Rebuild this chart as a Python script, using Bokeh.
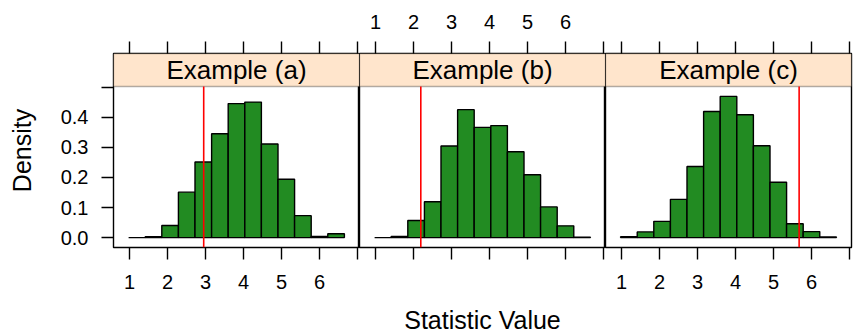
from bokeh.plotting import figure
from bokeh.layouts import row
from bokeh.models import (Range1d, FixedTicker, LinearAxis, BoxAnnotation, Label,
                          NumeralTickFormatter)
from bokeh.embed import file_html
from bokeh.resources import INLINE

# ---------------- data ----------------
PANEL_TITLES = ["Example (a)", "Example (b)", "Example (c)"]
BIN_EDGES = [0.975, 1.412, 1.848, 2.285, 2.721, 3.158, 3.594, 4.031,
             4.467, 4.904, 5.340, 5.777, 6.213, 6.650]
DENSITY_A = [0.000, 0.003, 0.040, 0.151, 0.251, 0.345, 0.445, 0.450,
             0.311, 0.194, 0.073, 0.004, 0.013]
DENSITY_B = [0.000, 0.004, 0.057, 0.119, 0.304, 0.425, 0.366, 0.372,
             0.285, 0.209, 0.102, 0.039, 0.001]
DENSITY_C = [0.003, 0.019, 0.054, 0.127, 0.236, 0.419, 0.469, 0.408,
             0.305, 0.184, 0.046, 0.020, 0.002]
OBSERVED = [2.95, 2.19, 5.67]
X_TICKS = [1, 2, 3, 4, 5, 6, 7]
Y_TICKS = [0.0, 0.1, 0.2, 0.3, 0.4, 0.5]
X_LABEL = "Statistic Value"
Y_LABEL = "Density"

DENSITIES = [DENSITY_A, DENSITY_B, DENSITY_C]

# ---------------- styling / layout ----------------
FONT = "Liberation Sans"
TICK_FS = "20px"
LAB_FS = "25px"
STRIP_FS = "26px"
STRIP_FILL = "#FFE5CC"
BAR_FILL = "#228B22"
FRAME_W = 246
PANEL_H = 161
STRIP_H = 33
TICK_LEN = 12
PAD = 0.07
LW = 1.4

lo, hi = min(BIN_EDGES), max(BIN_EDGES)
xpad = PAD * (hi - lo)
x_lo, x_hi = lo - xpad, hi + xpad
ymax = max(max(d) for d in DENSITIES)
y_lo, y_hi = -PAD * ymax, ymax + PAD * ymax
strip_top = y_hi + (y_hi - y_lo) * STRIP_H / PANEL_H


def style_axis(ax, ticks, overrides, show_labels, formatter=None):
    ax.ticker = FixedTicker(ticks=ticks)
    if formatter is not None:
        ax.formatter = formatter
    ax.major_label_overrides = overrides
    ax.major_tick_out = TICK_LEN
    ax.major_tick_in = 0
    ax.minor_tick_out = 0
    ax.minor_tick_in = 0
    ax.axis_line_color = None
    ax.major_tick_line_color = "black"
    ax.major_tick_line_width = LW
    ax.major_label_text_font = FONT
    ax.major_label_text_font_size = TICK_FS
    ax.major_label_text_color = "black" if show_labels else None


figs = []
for i, (title, dens, obs) in enumerate(zip(PANEL_TITLES, DENSITIES, OBSERVED)):
    p = figure(frame_width=FRAME_W, frame_height=PANEL_H + STRIP_H,
               x_range=Range1d(x_lo, x_hi), y_range=Range1d(y_lo, strip_top),
               output_backend="svg", toolbar_location=None,
               y_axis_location="left" if i == 0 else None,
               min_border_left=113 if i == 0 else 0,
               min_border_right=2 if i == 2 else 0,
               min_border_top=53, min_border_bottom=87,
               outline_line_color="black", outline_line_width=LW,
               background_fill_color="white", border_fill_color="white")
    p.xgrid.visible = False
    p.ygrid.visible = False

    # strip (drawn beneath the data)
    p.add_layout(BoxAnnotation(bottom=y_hi, fill_color=STRIP_FILL, fill_alpha=1.0,
                               line_color="black", line_width=LW, level="underlay"))

    # histogram bars
    p.quad(left=BIN_EDGES[:-1], right=BIN_EDGES[1:], bottom=0, top=dens,
           fill_color=BAR_FILL, line_color="black", line_width=LW)
    # observed value
    p.segment(x0=[obs], x1=[obs], y0=[y_lo], y1=[y_hi],
              line_color="red", line_width=1.6)

    p.add_layout(Label(x=(x_lo + x_hi) / 2, y=y_hi, y_offset=STRIP_H / 2,
                       text=title, text_align="center", text_baseline="middle",
                       text_font=FONT, text_font_size=STRIP_FS, text_color="black",
                       level="overlay"))

    # bottom axis
    bx = p.xaxis[0]
    style_axis(bx, X_TICKS, {7: ""}, show_labels=(i != 1))
    bx.major_label_standoff = 15 if i != 1 else 12
    if i == 1:
        bx.axis_label = X_LABEL
        bx.axis_label_text_font = FONT
        bx.axis_label_text_font_size = LAB_FS
        bx.axis_label_text_font_style = "normal"
        bx.axis_label_text_color = "black"
        bx.axis_label_standoff = 46

    # top axis
    tx = LinearAxis()
    style_axis(tx, X_TICKS, {7: ""}, show_labels=(i == 1))
    tx.major_label_standoff = 13
    p.add_layout(tx, "above")

    # left axis
    if i == 0:
        ly = p.yaxis[0]
        style_axis(ly, Y_TICKS, {0.5: ""}, show_labels=True,
                   formatter=NumeralTickFormatter(format="0.0"))
        ly.major_label_standoff = 13
        ly.major_label_orientation = "horizontal"
        ly.axis_label = Y_LABEL
        ly.axis_label_text_font = FONT
        ly.axis_label_text_font_size = LAB_FS
        ly.axis_label_text_font_style = "normal"
        ly.axis_label_text_color = "black"
        ly.axis_label_standoff = 22

    figs.append(p)

layout = row(*figs, spacing=0)
open("out.html", "w").write(file_html(layout, INLINE))
